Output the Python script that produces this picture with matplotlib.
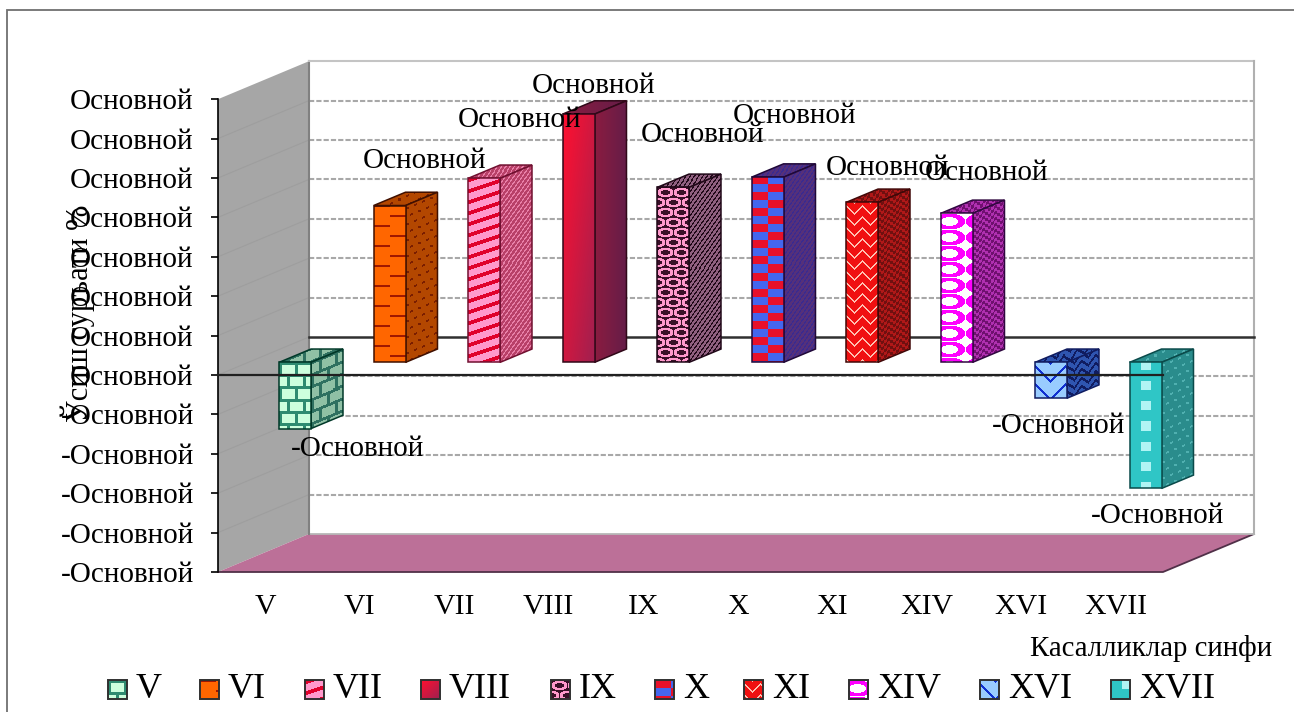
import numpy as np
import matplotlib
matplotlib.use('Agg')
import matplotlib.pyplot as plt
from matplotlib.patches import Polygon, Rectangle

plt.rcParams['font.family'] = ['Liberation Serif', 'DejaVu Serif']

# values read in tick units (the source chart shows every number as "Основной")
categories = ['V', 'VI', 'VII', 'VIII', 'IX', 'X', 'XI', 'XIV', 'XVI', 'XVII']
values = [-1.68, 3.98, 4.67, 6.30, 4.44, 4.70, 4.06, 3.78, -0.91, -3.20]
value_ticks = [-5, -4, -3, -2, -1, 0, 1, 2, 3, 4, 5, 6, 7]
tick_labels = ['-Основной'] * 5 + ['Основной'] * 8
value_label = 'Основной'
x_title = 'Касалликлар синфи'
y_title = 'Ўсиш суръати %'

# label position relative to the top of the bar front, in pixels
label_dx = [62, 34, 35, 14, 29, 26, 25, 29, 7, 11]
label_dy = [-20, 45, 58, 28, 52, 61, 34, 40, -28, -28]
legend_px = [108, 200, 305, 421, 551, 655, 744, 849, 980, 1111]

# pixel layout of the pseudo 3d box
PX = 94.5
PY = 39.4
LEFT = 218
BOTTOM = 572
DX = 91 / PX
DY = 38 / PY
SHEAR = 38 / 91


def to_x(px):
    return (px - LEFT) / PX


def to_y(py):
    return (BOTTOM - py) / PY - 5


def ring(x, y, w, h):
    a = ((x % w - w / 2) / (w / 2)) ** 2 + ((y % h - h / 2) / (h / 2)) ** 2
    return (a < 1) & (a > 0.3)


patterns = {
    'brick': lambda x, y: (y % 12 < 3) | ((x + 8 * (y // 12 % 2)) % 16 < 3),
    'dash': lambda x, y: (y % 10 < 2) & ((x + 16 * (y // 10 % 2)) % 32 < 16),
    'dots': lambda x, y: (y % 8 < 2) & ((x + 4 * (y // 8 % 2)) % 8 < 3),
    'stripe': lambda x, y: (y + x // 3) % 11 < 4,
    'diag': lambda x, y: (x + y) % 6 < 2,
    'check': lambda x, y: (x // 3 + y // 3) % 2 == 0,
    'wave': lambda x, y: (y + np.abs(x % 14 - 7)) % 8 < 3,
    'zig': lambda x, y: (y + np.abs(x % 16 - 8)) % 11 < 2,
    'chain': lambda x, y: ring(x + 8 * (y // 10 % 2), y, 16, 10),
    'blob': lambda x, y: ring(x + 8, y, 32, 16),
    'weave': lambda x, y: (x // 16 + y // 8) % 2 == 0,
    'tri': lambda x, y: (np.abs(x % 30 - 15) + y) % 18 < 3,
    'holes': lambda x, y: (x % 32 > 10) & (x % 32 < 21) & (y % 20 < 9),
    'grad': lambda x, y: (x / max(x.max(), 1) + y / max(y.max(), 1)) / 2,
    'sidegrad': lambda x, y: x / max(x.max(), 1) * 0.5,
}

front_styles = [
    ('brick', '#CCFFDD', '#2E8B70'), ('dash', '#FF6600', '#A01800'),
    ('stripe', '#FF99CC', '#E0002B'), ('grad', '#FF1030', '#A02050'),
    ('chain', '#3A1028', '#FF99CC'), ('weave', '#4466EE', '#E8102A'),
    ('zig', '#F01010', '#FFC0B0'), ('blob', '#FFFFFF', '#FF00FF'),
    ('tri', '#99CCFF', '#1030D0'), ('holes', '#2FC6C6', '#B0F4F4'),
]
side_styles = [
    ('brick', '#8FC0A5', '#2E7060'), ('dots', '#B34700', '#7A1E00'),
    ('diag', '#B84068', '#E880A8'), ('sidegrad', '#8A1C40', '#401C50'),
    ('diag', '#906080', '#200818'), ('diag', '#55307A', '#3A2A90'),
    ('check', '#B01818', '#701010'), ('check', '#B030B0', '#701070'),
    ('wave', '#2F55B0', '#101C60'), ('dots', '#2A8C8C', '#50B0B0'),
]
edge_colors = ['#003828', '#401000', '#701030', '#300818', '#200818',
               '#200838', '#400808', '#300840', '#101C60', '#0A4A4A']


def rgb(c):
    return np.array(matplotlib.colors.to_rgb(c))


def textured(ax, pts, style, edge, shear=0.0, z=3, lw=1.1):
    name, bg, fg = style
    pts = np.array(pts)
    x0, y0 = pts.min(axis=0)
    x1, y1 = pts.max(axis=0)
    w = max(int(round((x1 - x0) * PX)), 1)
    h = max(int(round((y1 - y0) * PY)), 1)
    yy, xx = np.mgrid[0:h, 0:w]
    m = patterns[name](xx, (yy + xx * shear).astype(int)).astype(float)[..., None]
    img = rgb(bg) * (1 - m) + rgb(fg) * m
    im = ax.imshow(img, extent=(x0, x1, y0, y1), aspect='auto',
                   interpolation='nearest', zorder=z)
    outline = Polygon(pts, closed=True, fill=False, ec=edge, lw=lw, zorder=z + 0.1)
    ax.add_patch(outline)
    im.set_clip_path(outline)


fig = plt.figure(figsize=(12.94, 7.12), dpi=100)
ax = fig.add_axes([0, 0, 1, 1])
ax.patch.set_alpha(0)

# frame, runs off the picture on the right and at the bottom
ax.add_patch(Rectangle((to_x(7), to_y(730)), to_x(1320) - to_x(7), to_y(10) - to_y(730),
                       fc='white', ec='#707070', lw=1.3, zorder=0))

xmax = len(categories)
ylow, yhigh = value_ticks[0], value_ticks[-1]

# walls and floor
ax.add_patch(Polygon([(0, ylow), (DX, ylow + DY), (DX, yhigh + DY), (0, yhigh)],
                     fc='#A6A6A6', ec='none', zorder=1))
ax.add_patch(Polygon([(0, ylow), (DX, ylow + DY), (xmax + DX, ylow + DY), (xmax, ylow)],
                     fc='#BC7098', ec='none', zorder=1))
ax.plot([0, xmax, xmax + DX], [ylow, ylow, ylow + DY], color='#503048', lw=1.3, zorder=1.6)
ax.plot([DX, xmax + DX], [ylow + DY, ylow + DY], color='#B8B8B8', lw=1.3, zorder=1.6)
ax.plot([DX, DX], [ylow + DY, yhigh + DY], color='#808080', lw=1.5, zorder=2)
ax.plot([DX, xmax + DX], [yhigh + DY, yhigh + DY], color='#C4C4C4', lw=1.5, zorder=2)
ax.plot([xmax + DX, xmax + DX], [ylow + DY, yhigh + DY], color='#B0B0B0', lw=1.5, zorder=2)

for v in value_ticks[1:-1]:
    ax.plot([0, DX], [v, v + DY], color='#9E9E9E', lw=0.8, zorder=1.5)
    if v != 0:
        ax.plot([DX, xmax + DX], [v + DY, v + DY], color='#A8A8A8', lw=1.5,
                ls=(0, (2.5, 1)), zorder=1.5)
ax.plot([DX, xmax + DX], [DY, DY], color='#303030', lw=1.8, zorder=2)

# bars, front face a third of the way into the box
d0 = DX / 3
e0 = DY / 3
d1 = DX * 0.35
e1 = DY * 0.35
for i, v in enumerate(values):
    px_left = i + 0.5 - 15.5 / PX + d0 - 0.01
    px_right = px_left + 32 / PX
    top = max(v, 0) + e0
    low = min(v, 0) + e0
    front = [(px_left, low), (px_right, low), (px_right, top), (px_left, top)]
    side = [(px_right, low), (px_right + d1, low + e1), (px_right + d1, top + e1), (px_right, top)]
    cap = [(px_left, top), (px_right, top), (px_right + d1, top + e1), (px_left + d1, top + e1)]
    textured(ax, cap, side_styles[i], edge_colors[i], shear=SHEAR, z=3 + i * 0.5)
    textured(ax, side, side_styles[i], edge_colors[i], shear=SHEAR, z=3.1 + i * 0.5)
    textured(ax, front, front_styles[i], edge_colors[i], z=3.2 + i * 0.5)

ax.plot([0, xmax], [0, 0], color='#202020', lw=1.6, zorder=9)

# data labels
for i, v in enumerate(values):
    px_center = i + 0.5 + d0
    txt = value_label if v > 0 else '-' + value_label
    ax.text(px_center + label_dx[i] / PX, v + e0 + label_dy[i] / PY, txt, fontsize=21,
            ha='center', va='center', zorder=10)

# real axes, moved onto the front edge of the box
ax.set_xlim(to_x(0), to_x(1294))
ax.set_ylim(to_y(712), to_y(0))
for s in ['top', 'right']:
    ax.spines[s].set_visible(False)
ax.spines['left'].set_position(('data', 0))
ax.spines['left'].set_bounds(ylow, yhigh)
ax.spines['left'].set_linestyle((0, (1.5, 1)))
ax.spines['left'].set_linewidth(1.2)
ax.spines['left'].set_zorder(8)
ax.spines['bottom'].set_visible(False)
ax.spines['bottom'].set_position(('data', ylow))
ax.set_yticks(value_ticks, tick_labels, fontsize=21)
ax.tick_params(axis='y', length=5, width=1.2, pad=12.5, direction='out')
ax.set_xticks(np.arange(xmax) + 0.5, categories, fontsize=21.5)
ax.tick_params(axis='x', length=0, pad=16)

ax.text(to_x(1272), to_y(648), x_title, fontsize=20.7, ha='right', va='center', zorder=10)
ax.text(to_x(78), to_y(313), y_title, fontsize=22, rotation=90, ha='center', va='center', zorder=10)

# legend
for i, name in enumerate(categories):
    x0, x1 = to_x(legend_px[i]), to_x(legend_px[i] + 19)
    y0, y1 = to_y(699), to_y(680)
    textured(ax, [(x0, y0), (x1, y0), (x1, y1), (x0, y1)], front_styles[i], '#303030', z=10, lw=1.4)
    ax.text(to_x(legend_px[i] + 28), to_y(690), name, fontsize=26, ha='left', va='center', zorder=10)

ax.set_xlim(to_x(0), to_x(1294))
ax.set_ylim(to_y(712), to_y(0))
fig.savefig('out.png', dpi=100)
